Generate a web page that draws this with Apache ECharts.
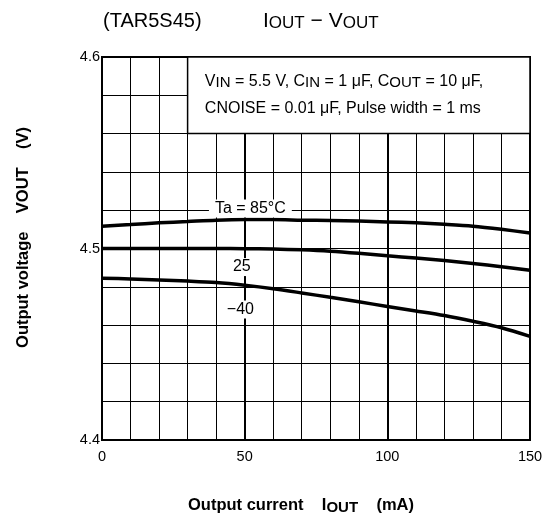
<!DOCTYPE html>
<html><head><meta charset="utf-8">
<script src="https://cdn.jsdelivr.net/npm/echarts@6/dist/echarts.min.js"></script>
<style>html,body{margin:0;padding:0;background:#fff}#c{width:546px;height:521px}</style>
</head><body><div id="c"></div>
<script>
var FONT = 'Liberation Sans, Arial, sans-serif';
var currents = [0,10,20,30,40,50,60,70,80,90,100,110,120,130,140,150];
var v85 = [4.5116,4.5125,4.5134,4.5141,4.5148,4.5151,4.5151,4.5148,4.5146,4.5143,4.5139,4.5134,4.5126,4.5116,4.5100,4.5081];
var v25 = [4.5000,4.5000,4.5000,4.5000,4.5000,4.4999,4.4997,4.4993,4.4986,4.4975,4.4962,4.4950,4.4937,4.4922,4.4905,4.4886];
var vm40 = [4.4845,4.4841,4.4836,4.4830,4.4822,4.4808,4.4790,4.4768,4.4745,4.4722,4.4697,4.4674,4.4650,4.4620,4.4586,4.4541];
var xTickLabels = [0,50,100,150];
var yTickLabels = ['4.4','4.5','4.6'];
var annoText = ['Ta = 85°C','25','−40'];
var annoX = [52,49,48.5];
var annoY = [4.5209,4.4903,4.4681];
var boxX = [30,150];
var boxY = [4.56,4.6];

function zip(xs, ys){ return xs.map(function(x,i){return [x, ys[i]];}); }

var chart = echarts.init(document.getElementById('c'));
var lineStyle = {color:'#000', width:3.5};
chart.setOption({
  animation:false,
  backgroundColor:'#fff',
  title:[
    {text:'(TAR5S45)', left:103, top:11, padding:0, textStyle:{fontFamily:FONT, fontSize:20, fontWeight:'normal', color:'#000'}},
    {text:'{a|I}{s|OUT}{a| − V}{s|OUT}', left:263, top:10, padding:0, textStyle:{fontWeight:'normal', rich:{
      a:{fontFamily:FONT, fontSize:21, fontWeight:'normal', color:'#000'},
      s:{fontFamily:FONT, fontSize:17, fontWeight:'normal', color:'#000', padding:[5,0,0,0]}}}}
  ],
  grid:{left:102, right:16, top:57, bottom:81, show:true, borderColor:'#000', borderWidth:2, backgroundColor:'transparent'},
  xAxis:[{
    type:'value', min:0, max:150, interval:10,
    axisLine:{show:false}, axisTick:{show:false},
    splitLine:{show:true, lineStyle:{color:'#000', width:1}},
    axisLabel:{fontFamily:FONT, fontSize:14.5, color:'#000', margin:9,
      formatter:function(v){ return xTickLabels.indexOf(v)>=0 ? String(v) : ''; }},
    name:'{b|Output current    I}{s|OUT}{b|    (mA)}', nameLocation:'middle', nameGap:55,
    nameTextStyle:{padding:[0,30,0,0], rich:{
      b:{fontFamily:FONT, fontSize:16.5, fontWeight:'bold', color:'#000'},
      s:{fontFamily:FONT, fontSize:15, fontWeight:'bold', color:'#000', padding:[5,0,0,0]}}}
  },{
    type:'value', min:0, max:150, interval:50, position:'top',
    axisLine:{show:false}, axisTick:{show:false}, axisLabel:{show:false},
    splitLine:{show:true, lineStyle:{color:'#000', width:2}}
  }],
  yAxis:{
    type:'value', min:4.4, max:4.6, interval:0.02,
    axisLine:{show:false}, axisTick:{show:false},
    splitLine:{show:true, lineStyle:{color:'#000', width:1}},
    axisLabel:{fontFamily:FONT, fontSize:14.5, color:'#000', margin:2,
      formatter:function(v){ var t=v.toFixed(1); return (Math.abs(v-parseFloat(t))<1e-6 && yTickLabels.indexOf(t)>=0) ? t : ''; }},
    name:'{b|Output voltage    VOUT    (V)}', nameLocation:'middle', nameGap:70,
    nameTextStyle:{padding:[0,0,0,22], rich:{b:{fontFamily:FONT, fontSize:16.5, fontWeight:'bold', color:'#000'}}}
  },
  series:[
    {type:'line', data:zip(currents,v85), smooth:0.3, showSymbol:false, lineStyle:lineStyle, z:3,
     markArea:{silent:true, itemStyle:{color:'#fff', borderColor:'#000', borderWidth:1.5},
       label:{show:true, position:'insideLeft', distance:18, fontFamily:FONT, color:'#000',
         formatter:'{n|V}{s|IN}{n| = 5.5 V, C}{s|IN}{n| = 1 μF, C}{s|OUT}{n| = 10 μF,}\n{n|CNOISE = 0.01 μF, Pulse width = 1 ms}',
         rich:{n:{fontFamily:FONT, fontSize:16, color:'#000', lineHeight:27}, s:{fontFamily:FONT, fontSize:15, color:'#000', lineHeight:27, padding:[3,0,0,0]}}},
       data:[[{coord:[boxX[0], boxY[0]]},{coord:[boxX[1], boxY[1]]}]]}},
    {type:'line', data:zip(currents,v25), smooth:0.3, showSymbol:false, lineStyle:lineStyle, z:3},
    {type:'line', data:zip(currents,vm40), smooth:0.3, showSymbol:false, lineStyle:lineStyle, z:3},
    {type:'scatter', symbol:'circle', symbolSize:1, z:4, silent:true,
     itemStyle:{color:'rgba(0,0,0,0)'},
     emphasis:{disabled:true},
     data:annoText.map(function(t,i){return {value:[annoX[i], annoY[i]], name:t};}),
     label:{show:true, position:'inside', opacity:1, formatter:'{b}', fontFamily:FONT, fontSize:16, color:'#000', backgroundColor:'#ffffff', padding:[1,6]}}
  ]
});
</script></body></html>
